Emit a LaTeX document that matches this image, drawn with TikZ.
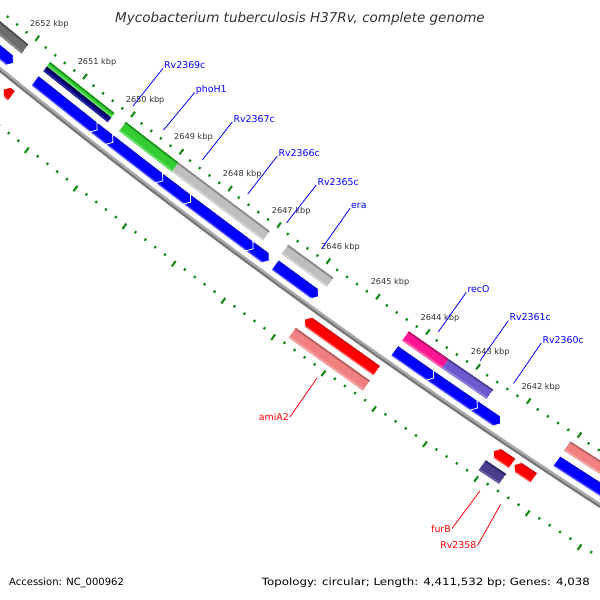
\documentclass[tikz,border=0pt]{standalone}
\usepackage{fontspec}
\setmainfont{DejaVu Sans}
\definecolor{tickgreen}{HTML}{168A16}
\definecolor{lblgray}{HTML}{333333}
\definecolor{geneblue}{HTML}{0000FF}
\definecolor{genered}{HTML}{FF0000}
\definecolor{bbl}{HTML}{ABABAB}
\definecolor{bbd}{HTML}{767676}
\definecolor{cdg}{HTML}{6E6E6E}\definecolor{cdgd}{HTML}{4D4D4D}\definecolor{cdgl}{HTML}{8C8C8C}
\definecolor{clg}{HTML}{BEBEBE}\definecolor{clgd}{HTML}{8A8A8A}\definecolor{clgl}{HTML}{D4D4D4}
\definecolor{cgr}{HTML}{33CC33}\definecolor{cgrd}{HTML}{1E961E}\definecolor{cgrl}{HTML}{66DD66}
\definecolor{cnv}{HTML}{000080}\definecolor{cnvd}{HTML}{000055}\definecolor{cnvl}{HTML}{2A2AA0}
\definecolor{cpk}{HTML}{FF1493}\definecolor{cpkd}{HTML}{B8106A}\definecolor{cpkl}{HTML}{FF5AA8}
\definecolor{cpu}{HTML}{6A5ACD}\definecolor{cpud}{HTML}{4B3F99}\definecolor{cpul}{HTML}{8F83DC}
\definecolor{csa}{HTML}{F08080}\definecolor{csad}{HTML}{B86060}\definecolor{csal}{HTML}{F4A4A4}
\definecolor{csl}{HTML}{483D8B}\definecolor{csld}{HTML}{302866}\definecolor{csll}{HTML}{6A60A8}
\definecolor{cbl}{HTML}{0000FF}\definecolor{cbld}{HTML}{0000C8}\definecolor{cbll}{HTML}{4848FF}
\definecolor{crd}{HTML}{FF0000}\definecolor{crdd}{HTML}{C80000}\definecolor{crdl}{HTML}{FF4C4C}
\newcommand\PP[2]{({X(#1,#2)},{Y(#1,#2)})}
\newcommand\shpN[4]{\PP{#1}{#3} -- \PP{#2}{#3} -- \PP{#2}{#4} -- \PP{#1}{#4} -- cycle}
\newcommand\shpR[4]{\PP{#1}{#3} -- \PP{#2-5}{#3} -- \PP{#2}{0.5*(#3)+0.5*(#4)} -- \PP{#2-5}{#4} -- \PP{#1}{#4} -- cycle}
\newcommand\shpL[4]{\PP{#1+5}{#3} -- \PP{#2}{#3} -- \PP{#2}{#4} -- \PP{#1+5}{#4} -- \PP{#1}{0.5*(#3)+0.5*(#4)} -- cycle}
\newcommand\feat[9]{%
 \begin{scope}
  \clip #1{#2}{#3}{#4}{#5};
  \fill[#6] #1{#2}{#3}{#4}{#5};
  \fill[#7] \PP{#2-9}{#4+2} -- \PP{#3+9}{#4+2} -- \PP{#3+9}{#4-1.8} -- \PP{#2-9}{#4-1.8} -- cycle;
  \fill[#8] \PP{#2-9}{#5+1.8} -- \PP{#3+9}{#5+1.8} -- \PP{#3+9}{#5-2} -- \PP{#2-9}{#5-2} -- cycle;
 \end{scope}
 \path[#9] #1{#2}{#3}{#4}{#5};}
\begin{document}
\begin{tikzpicture}[x=1pt,y=-1pt,
 declare function={qq(\pa)=((\pa-410)/118.32)^2;
   X(\pa,\pb)=0.809*\pa+0.588*(\pb+qq(\pa));
   Y(\pa,\pb)=0.588*\pa-0.809*(\pb+qq(\pa));},
 tickc/.style={draw=tickgreen,line width=2.1pt},
 kb/.style={font=\fontsize{8.2}{9}\selectfont,text=lblgray,inner sep=0pt},
 gl/.style={font=\fontsize{9.4}{10}\selectfont,text=geneblue,inner sep=1pt,anchor=base west},
 rl/.style={font=\fontsize{9.4}{10}\selectfont,text=genered,inner sep=1pt,anchor=east},
 bline/.style={draw=geneblue,line width=0.8pt},
 rline/.style={draw=genered,line width=0.8pt},
 wout/.style={draw=white,line width=0.8pt},
 nout/.style={draw=none}]
\useasboundingbox (0,0) rectangle (600,600);
\fill[white] (0,0) rectangle (600,600);
\begin{scope}
\clip (0,0) rectangle (600,600);
% tick rings
\foreach \k in {-5,...,63}{
 \pgfmathsetmacro\su{52.7+\k*12.214}
 \pgfmathsetmacro\sl{410+(\su-410)*1.01286}
 \pgfmathtruncatemacro\mj{mod(\k+100,5)==0}
 \ifnum\mj=1
  \draw[tickc] \PP{\su}{-21.4} -- \PP{\su}{-15};
  \draw[tickc] \PP{\sl}{-108.8} -- \PP{\sl}{-115.5};
 \else
  \draw[tickc] \PP{\su}{-21.4} -- \PP{\su}{-18.9};
  \draw[tickc] \PP{\sl}{-108.8} -- \PP{\sl}{-111.3};
 \fi
}
% backbone
\draw[line width=2.3pt,draw=bbl] plot[smooth,samples=30,domain=-80:900] ({X(\x,-64.8)},{Y(\x,-64.8)});
\draw[line width=2.3pt,draw=bbd] plot[smooth,samples=30,domain=-80:900] ({X(\x,-67.1)},{Y(\x,-67.1)});
% slot A (COG, upper)
\feat{\shpN}{-80}{49}{-28.6}{-40}{cdg}{cdgd}{cdgl}{nout}
\feat{\shpN}{77}{159}{-28.6}{-34.3}{cgr}{cgrd}{cgrl}{nout}
\feat{\shpN}{77}{159}{-34.3}{-40}{cnv}{cnvd}{cnvl}{nout}
\feat{\shpN}{173.5}{240}{-28.6}{-40}{cgr}{cgrd}{cgrl}{nout}
\feat{\shpN}{240}{354}{-28.6}{-40}{clg}{clgd}{clgl}{nout}
\feat{\shpN}{377}{433}{-28.6}{-40}{clg}{clgd}{clgl}{nout}
\feat{\shpN}{525.5}{574}{-28.6}{-40}{cpk}{cpkd}{cpkl}{nout}
\feat{\shpN}{574}{628}{-28.6}{-40}{cpu}{cpud}{cpul}{nout}
\feat{\shpN}{721}{900}{-28.6}{-40}{csa}{csad}{csal}{nout}
% slot C (blue CDS), right to left
\feat{\shpN}{721}{900}{-46.4}{-59}{cbl}{cbld}{cbll}{wout}
\feat{\shpR}{622}{654}{-46.4}{-59}{cbl}{cbld}{cbll}{wout}
\feat{\shpR}{569}{626}{-46.4}{-59}{cbl}{cbld}{cbll}{wout}
\feat{\shpR}{525}{573}{-46.4}{-59}{cbl}{cbld}{cbll}{wout}
\feat{\shpR}{378}{432}{-46.4}{-59}{cbl}{cbld}{cbll}{wout}
\feat{\shpR}{347}{371}{-46.4}{-59}{cbl}{cbld}{cbll}{wout}
\feat{\shpR}{269}{351}{-46.4}{-59}{cbl}{cbld}{cbll}{wout}
\feat{\shpR}{234}{273}{-46.4}{-59}{cbl}{cbld}{cbll}{wout}
\feat{\shpR}{171}{238}{-46.4}{-59}{cbl}{cbld}{cbll}{wout}
\feat{\shpR}{151}{175}{-46.4}{-59}{cbl}{cbld}{cbll}{wout}
\feat{\shpR}{75.5}{155}{-46.4}{-59}{cbl}{cbld}{cbll}{wout}
\feat{\shpR}{-80}{48}{-46.4}{-59}{cbl}{cbld}{cbll}{wout}
% slot D (red CDS)
\feat{\shpL}{55}{66}{-73}{-85.5}{crd}{crdd}{crdl}{wout}
\feat{\shpL}{434}{523}{-73}{-85.5}{crd}{crdd}{crdl}{wout}
\feat{\shpL}{664}{687}{-73}{-85.5}{crd}{crdd}{crdl}{wout}
\feat{\shpL}{689}{713}{-73}{-85.5}{crd}{crdd}{crdl}{wout}
% slot E (COG, lower)
\feat{\shpN}{432}{523}{-91.3}{-103.5}{csa}{csad}{csal}{nout}
\feat{\shpN}{663.5}{688}{-91.3}{-103.5}{csl}{csld}{csll}{nout}
\end{scope}
% kbp labels
\foreach \K in {2642,...,2652}{
 \pgfmathsetmacro\sk{52.7+(2652-\K)*61.07+1.5}
 \path \PP{\sk}{0.3} node[kb] (k\K) {\K\ kbp};
}
% gene labels (upper, blue)
\node[gl] (nA) at (163,68.3) {Rv2369c};
\node[gl] (nB) at (194.7,92.5) {phoH1};
\node[gl] (nC) at (232.3,122) {Rv2367c};
\node[gl] (nD) at (277.3,156) {Rv2366c};
\node[gl] (nE) at (316.3,185) {Rv2365c};
\node[gl] (nF) at (350,208.3) {era};
\node[gl] (nG) at (466.3,292.3) {recO};
\node[gl] (nH) at (508.3,320.7) {Rv2361c};
\node[gl] (nI) at (541.3,343) {Rv2360c};
\path \PP{169.9}{-12} coordinate (cA);
\path \PP{208.7}{-12} coordinate (cB);
\path \PP{257.7}{-12} coordinate (cC);
\path \PP{314.5}{-12} coordinate (cD);
\path \PP{362.8}{-12} coordinate (cE);
\path \PP{406.3}{-12} coordinate (cF);
\path \PP{549.6}{-12} coordinate (cG);
\path \PP{600.4}{-12} coordinate (cH);
\path \PP{640.8}{-12} coordinate (cI);
\foreach \n in {A,B,C,D,E,F,G,H,I}{\draw[bline] (c\n) -- (n\n.base west);}
% gene labels (lower, red)
\node[rl] (rA) at (290,417) {amiA2};
\node[rl] (rB) at (452,528.5) {furB};
\node[rl] (rC) at (477.5,545.5) {Rv2358};
\path \PP{478.6}{-120} coordinate (dA);
\path \PP{676.8}{-120} coordinate (dB);
\path \PP{701.5}{-120} coordinate (dC);
\foreach \n in {A,B,C}{\draw[rline] (d\n) -- (r\n.east);}
% title and footer
\node[font=\fontsize{13.5}{16}\selectfont\itshape,text=lblgray,anchor=base,inner sep=0pt] (title) at (300,22.5) {Mycobacterium tuberculosis H37Rv, complete genome};
\node[font=\fontsize{10}{12}\selectfont,text=black,anchor=base west,inner sep=0pt] (acc) at (9,585.5) {Accession: NC\_000962};
\node[font=\fontsize{10}{12}\selectfont,text=black,anchor=base east,inner sep=0pt] (topo) at (590,585.5) {\scalebox{1.18}[1]{Topology: circular; Length: 4,411,532 bp; Genes: 4,038}};
\end{tikzpicture}
\end{document}
